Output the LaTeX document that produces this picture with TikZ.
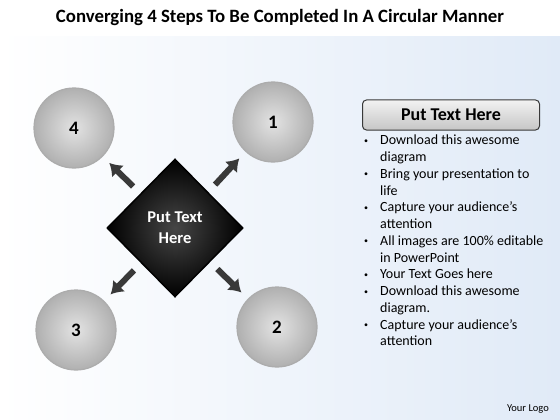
\documentclass[tikz,border=0pt]{standalone}
\usepackage{fontspec}
\setmainfont{Carlito}
\usetikzlibrary{shapes.geometric,arrows.meta}

\definecolor{bgblue}{RGB}{224,234,247}
\newcommand{\blt}{\raisebox{1.5pt}{\footnotesize\textbullet}}

\begin{document}
\begin{tikzpicture}[x=1pt,y=-1pt,
  stepball/.style={circle, draw=gray!65, line width=1.2pt, minimum size=80pt, inner sep=0pt,
    inner color=gray!22, outer color=gray!62, font=\fontsize{19}{21}\selectfont\bfseries},
  outarrow/.style={arrows={-{Latex[length=12pt,width=17pt]}}, line width=6pt,
    draw=gray!45!black, shorten >=9pt, shorten <=10pt}]
\useasboundingbox (0,0) rectangle (560,420);

%background
\fill[white] (0,0) rectangle (560,37);
\fill[left color=white, right color=bgblue] (0,37) rectangle (560,420);

\node[font=\fontsize{18.8}{20}\selectfont\bfseries] (title) at (280,17)
  {Converging 4 Steps To Be Completed In A Circular Manner};

%center diamond
\node[diamond, draw=black, line width=1.5pt, minimum width=136pt, minimum height=138pt,
  inner sep=0pt, inner color=gray!55!black, outer color=black, text=white,
  align=center, font=\fontsize{16.5}{21}\selectfont\bfseries] (mid) at (175,228)
  {Put Text\\Here};

%the four steps
\node[stepball] (s1) at (273,122) {1};
\node[stepball] (s2) at (277,327) {2};
\node[stepball] (s3) at (76,330) {3};
\node[stepball] (s4) at (74,128) {4};

%arrows out of the diamond
\draw[outarrow] (mid) -- (s1);
\draw[outarrow] (mid) -- (s2);
\draw[outarrow] (mid) -- (s3);
\draw[outarrow] (mid) -- (s4);

%text panel
\node[rounded corners=4pt, draw=gray!45!black, line width=1pt, minimum width=177pt,
  minimum height=30pt, top color=gray!10, bottom color=gray!45,
  font=\fontsize{18}{20}\selectfont\bfseries] (head) at (451,115) {Put Text Here};
\node[anchor=north west, inner sep=0pt] (list) at (364,133)
  {\fontsize{14}{15.4}\selectfont\renewcommand\arraystretch{1.087}%
   \begin{tabular}{@{}p{16pt}@{}l@{}}
   \blt & Download this awesome\\
   & diagram\\
   \blt & Bring your presentation to\\
   & life\\
   \blt & Capture your audience’s\\
   & attention\\
   \blt & All images are 100\% editable\\
   & in PowerPoint\\
   \blt & Your Text Goes here\\
   \blt & Download this awesome\\
   & diagram.\\
   \blt & Capture your audience’s\\
   & attention
   \end{tabular}};

\node[font=\fontsize{10.5}{12}\selectfont] (logo) at (528,409) {Your Logo};
\end{tikzpicture}
\end{document}
